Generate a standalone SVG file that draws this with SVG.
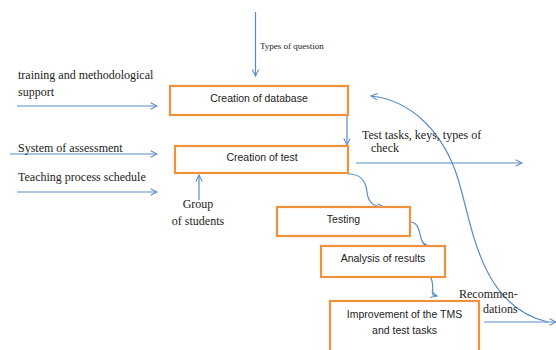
<svg xmlns="http://www.w3.org/2000/svg" width="556" height="350" viewBox="0 0 556 350">
<defs>
<marker id="ah" viewBox="0 0 10 10" refX="9" refY="5" markerWidth="8" markerHeight="8" markerUnits="userSpaceOnUse" orient="auto">
<path d="M1,1 L9,5 L1,9" fill="none" stroke="#5b8bc6" stroke-width="1.3"/>
</marker>
</defs>
<style>
.box{fill:#fff;stroke:#f0913c;stroke-width:2.2}
.bt{font-family:"Liberation Sans",Arial,sans-serif;font-size:10.5px;fill:#222;text-anchor:middle}
.lb{font-family:"Liberation Serif","Times New Roman",serif;font-size:12px;fill:#222}
.c{fill:none;stroke:#5b8bc6;stroke-width:1.2;marker-end:url(#ah)}
</style>
<rect width="556" height="350" fill="#fff"/>
<g id="connectors">
<path class="c" d="M255.5,12 L255.5,76"/>
<path class="c" d="M17,106 L157,106"/>
<path class="c" d="M10,154 L157,154"/>
<path class="c" d="M17,192 L157,192"/>
<path class="c" d="M199,200 L199,175"/>
<path class="c" d="M347,115 L347,145"/>
<path class="c" d="M356,163 L522,163"/>
<path class="c" d="M484,322 L556,322"/>
<path class="c" d="M548,322 C475,305 472,215 455,170 C440,130 410,100 371,96"/>
<path class="c" d="M348,174 C362,174 366,182 367,192 C368,203 375,207 384,207"/>
<path class="c" d="M410,222 C418,222 419,230 421,238 C423,245 426,246 429,246"/>
<path class="c" d="M430,277 C434,280 432,290 433,295 L437,296"/>
</g>
<g id="n1"><rect class="box" x="170" y="86" width="178" height="29"/><text class="bt" x="259" y="102">Creation of database</text></g>
<g id="n2"><rect class="box" x="175" y="146" width="173" height="27"/><text class="bt" x="262" y="161">Creation of test</text></g>
<g id="n3"><rect class="box" x="277" y="207" width="133" height="29"/><text class="bt" x="343.5" y="223">Testing</text></g>
<g id="n4"><rect class="box" x="321" y="246" width="124" height="31"/><text class="bt" x="383" y="262">Analysis of results</text></g>
<g id="n5"><rect class="box" x="330" y="301" width="149" height="60"/><text class="bt" x="404.5" y="318">Improvement of the TMS</text><text class="bt" x="404.5" y="334">and test tasks</text></g>
<g id="labels">
<text class="lb" x="260" y="49" style="font-size:9px">Types of question</text>
<text class="lb" x="18" y="79">training and methodological</text>
<text class="lb" x="18" y="96">support</text>
<text class="lb" x="18" y="152">System of assessment</text>
<text class="lb" x="18" y="181">Teaching process schedule</text>
<text class="lb" x="198" y="208" text-anchor="middle">Group</text>
<text class="lb" x="198" y="225" text-anchor="middle">of students</text>
<text class="lb" x="362" y="139">Test tasks, keys, types of</text>
<text class="lb" x="371" y="152">check</text>
<text class="lb" x="459" y="298">Recommen-</text>
<text class="lb" x="483" y="313">dations</text>
</g>
</svg>
